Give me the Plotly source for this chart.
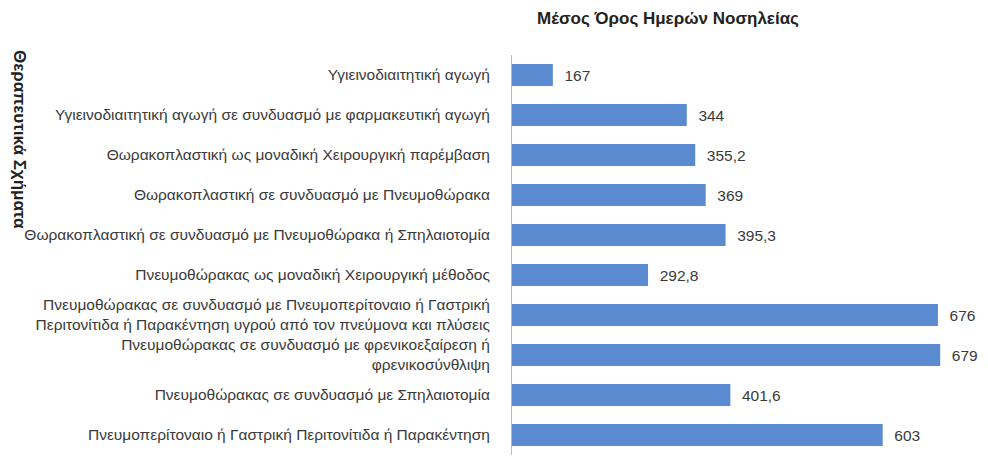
import plotly.graph_objects as go

# Θεραπευτικά σχήματα (από πάνω προς τα κάτω) και μέσος όρος ημερών νοσηλείας
categories = [
    'Υγιεινοδιαιτητική αγωγή',
    'Υγιεινοδιαιτητική αγωγή σε συνδυασμό με φαρμακευτική αγωγή',
    'Θωρακοπλαστική ως μοναδική Χειρουργική παρέμβαση',
    'Θωρακοπλαστική σε συνδυασμό με Πνευμοθώρακα',
    'Θωρακοπλαστική σε συνδυασμό με Πνευμοθώρακα ή Σπηλαιοτομία',
    'Πνευμοθώρακας ως μοναδική Χειρουργική μέθοδος',
    'Πνευμοθώρακας σε συνδυασμό με Πνευμοπερίτοναιο ή Γαστρική<br>'
    'Περιτονίτιδα ή Παρακέντηση υγρού από τον πνεύμονα και πλύσεις',
    'Πνευμοθώρακας σε συνδυασμό με φρενικοεξαίρεση ή<br>φρενικοσύνθλιψη',
    'Πνευμοθώρακας σε συνδυασμό με Σπηλαιοτομία',
    'Πνευμοπερίτοναιο ή Γαστρική Περιτονίτιδα ή Παρακέντηση',
]
mean_days = [167, 344, 355.2, 369, 395.3, 292.8, 676, 679, 401.6, 603]

title_text = 'Μέσος Όρος Ημερών Νοσηλείας'
axis_title = 'Θεραπευτικά Σχήματα'

FONT = 'Liberation Sans'
TXT = '#3a3a3a'

# η σελίδα έχει 8px περιθώριο, οπότε το σχήμα είναι 980x450
W, H = 980, 450

fig = go.Figure()
fig.add_trace(go.Bar(
    y=categories,
    x=mean_days,
    orientation='h',
    width=0.55,
    marker=dict(color='#5a8bd0', line=dict(width=0)),
    texttemplate='\u00a0\u00a0%{x}',   # λίγο κενό μετά τη μπάρα
    textposition='outside',
    textfont=dict(family=FONT, size=15.5, color=TXT),
    cliponaxis=False,
))

fig.update_layout(
    width=W, height=H,
    margin=dict(l=504, r=13, t=47, b=3),
    paper_bgcolor='white', plot_bgcolor='white',
    separators=',.',
    showlegend=False,
    font=dict(family=FONT, size=15, color=TXT),
    title=dict(text='<b>' + title_text + '</b>', x=660 / W, xanchor='center',
               y=1 - 10 / H, yanchor='middle',
               font=dict(family=FONT, size=17, color='#222222')),
    xaxis=dict(range=[113, 725], showgrid=False, zeroline=False,
               showticklabels=False, ticks='', automargin=False),
    yaxis=dict(autorange='reversed', showline=True, linecolor='#bdbdbd',
               linewidth=1, ticks='', ticklabelstandoff=18, automargin=False,
               tickfont=dict(family=FONT, size=15.5, color=TXT)),
)

# Τίτλος άξονα, κατακόρυφα
fig.add_annotation(
    text='<b>' + axis_title + '</b>',
    xref='paper', yref='paper', x=0, xshift=-492, y=(447 - 131) / 400,
    xanchor='center', yanchor='middle', textangle=90, showarrow=False,
    font=dict(family=FONT, size=17, color='#222222'),
)

fig.write_html('out.html')
